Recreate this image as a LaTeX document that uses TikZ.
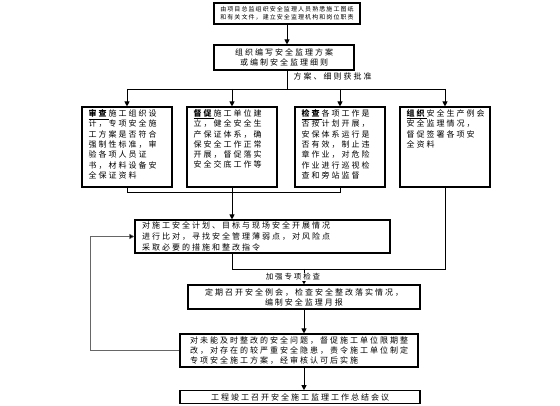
\documentclass[tikz,border=0pt]{standalone}
\usepackage{fontspec}
\newfontfamily\cjk[LetterSpace=25]{Noto Sans CJK SC}
\newfontfamily\cjks[LetterSpace=18]{Noto Sans CJK SC}
\usetikzlibrary{arrows.meta}
\begin{document}
\begin{tikzpicture}[x=1pt,y=-1pt,
  box/.style={draw, line width=1.1pt, inner sep=0pt, font=\cjk\fontsize{8}{10}\selectfont, align=center},
  txt/.style={font=\cjk\fontsize{8}{10.3}\selectfont, inner sep=0pt, align=left, anchor=north west},
  lbl/.style={font=\cjk\fontsize{7.5}{9}\selectfont, inner sep=0.5pt},
  ln/.style={line width=0.9pt},
  arr/.style={ln, -{Triangle[length=5pt,width=5pt]}},
  fb/.style={line width=0.5pt, draw=black!60, -{Triangle[length=5pt,width=5pt,fill=black]}}]
\useasboundingbox[fill=white] (0,0) rectangle (560,406);

% top boxes
\node[box, minimum width=146pt, minimum height=21pt, font=\cjks\fontsize{6}{8.5}\selectfont] (n1) at (287,13.5)
  {由项目总监组织安全监理人员熟悉施工图纸\\和有关文件，建立安全监理机构和岗位职责};
\node[box, minimum width=140pt, minimum height=25pt, font=\cjk\fontsize{8}{9.5}\selectfont] (n2) at (284,57.5)
  {组织编写安全监理方案\\或编制安全监理细则};
\node[lbl, anchor=west, font=\cjk\fontsize{8}{9}\selectfont] (l1) at (293,76) {方案、细则获批准};

% four boxes
\node[box, minimum width=90pt, minimum height=80pt] (b1) at (127,147) {};
\node[box, minimum width=90pt, minimum height=80pt] (b2) at (232,147) {};
\node[box, minimum width=90pt, minimum height=80pt] (b3) at (340,147) {};
\node[box, minimum width=90pt, minimum height=80pt] (b4) at (445,147) {};
\node[txt, xshift=7pt, yshift=-3pt] (t1) at (b1.north west)
  {\underline{\textbf{审查}}施工组织设\\计，专项安全施\\工方案是否符合\\强制性标准，审\\验各项人员证\\书，材料设备安\\全保证资料};
\node[txt, xshift=7pt, yshift=-3pt] (t2) at (b2.north west)
  {\underline{\textbf{督促}}施工单位建\\立，健全安全生\\产保证体系，确\\保安全工作正常\\开展，督促落实\\安全交底工作等};
\node[txt, xshift=7pt, yshift=-3pt] (t3) at (b3.north west)
  {\underline{\textbf{检查}}各项工作是\\否按计划开展，\\安保体系运行是\\否有效，制止违\\章作业，对危险\\作业进行巡视检\\查和旁站监督};
\node[txt, xshift=7pt, yshift=-3pt] (t4) at (b4.north west)
  {\underline{\textbf{组织}}安全生产例会\\安全监理情况，\\督促签署各项安\\全资料};

% middle box
\node[box, minimum width=255pt, minimum height=33pt, inner xsep=7pt, text width=241pt, align=left,
  font=\cjk\fontsize{8}{11}\selectfont] (n5) at (262.5,236.5)
  {对施工安全计划、目标与现场安全开展情况\\进行比对，寻找安全管理薄弱点，对风险点\\采取必要的措施和整改指令};

\node[box, minimum width=232pt, minimum height=24pt, font=\cjk\fontsize{8}{10}\selectfont] (n6) at (304,297)
  {定期召开安全例会，检查安全整改落实情况，\\编制安全监理月报};
\node[box, minimum width=238pt, minimum height=33pt, align=left, font=\cjk\fontsize{8}{9.8}\selectfont] (n7) at (299,350.5)
  {对未能及时整改的安全问题，督促施工单位限期整\\改，对存在的较严重安全隐患，责令施工单位制定\\专项安全施工方案，经审核认可后实施};
\node[box, minimum width=240pt, minimum height=12.5pt] (n8) at (300,397)
  {工程竣工召开安全施工监理工作总结会议};

% coordinates
\coordinate (bus) at (287,89);
\coordinate (bus2) at (0,192);
\coordinate (bus3) at (0,269);
\coordinate (fbx) at (90,0);

% connectors
\draw[arr] (n1.south) -- (n1.south |- n2.north);
\draw[ln] (n1.south |- n2.south) -- (bus);
\draw[ln] (b1.north |- bus) -- (b4.north |- bus);
\draw[arr] (b1.north |- bus) -- (b1.north);
\draw[arr] (b2.north |- bus) -- (b2.north);
\draw[arr] (b3.north |- bus) -- (b3.north);
\draw[arr] (b4.north |- bus) -- (b4.north);

\draw[ln] (b1.south) -- (b1.south |- bus2) -- (b3.south |- bus2) -- (b3.south);
\draw[arr] (b2.south) -- (b2.south |- n5.north);

\draw[ln] (b4.south) -- (b4.south |- bus3) -- (b2.south |- bus3) -- (b2.south |- n5.south);
\draw[arr] (n6.north |- bus3) -- (n6.north);
\node[lbl, fill=white] (l2) at (293,277) {加强专项检查};

\draw[arr] (n6.south) -- (n6.south |- n7.north);
\draw[arr] (n6.south |- n7.south) -- (n6.south |- n8.north);

\draw[fb] (n7.west) -- (n7.west -| fbx) |- (n5.west);
\end{tikzpicture}
\end{document}
